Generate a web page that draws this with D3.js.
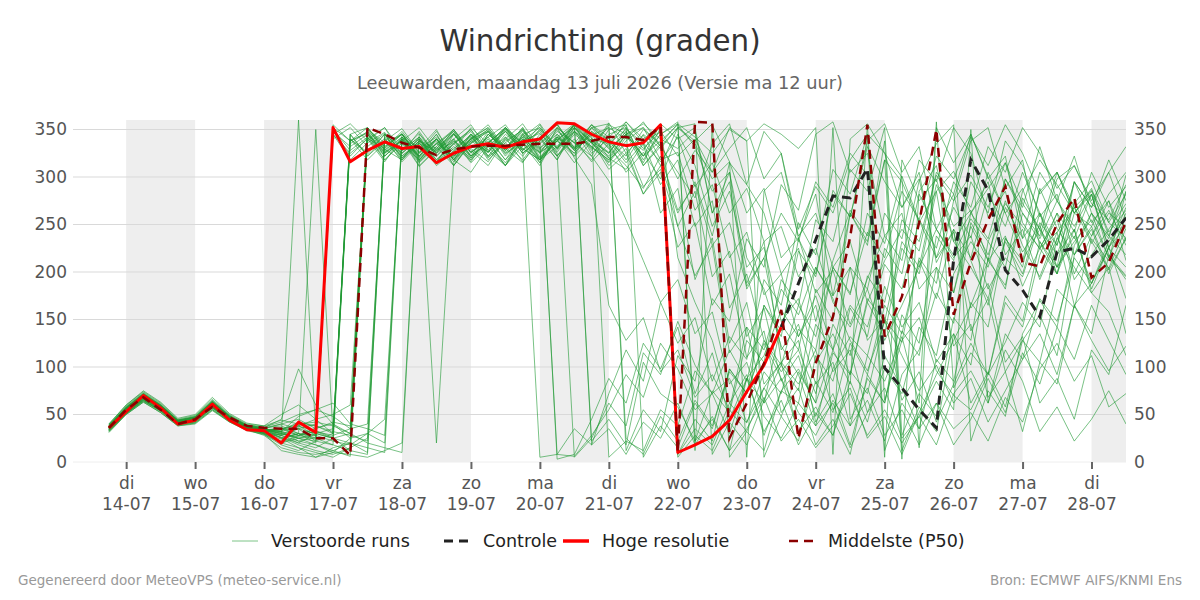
<!DOCTYPE html>
<html>
<head>
<meta charset="utf-8">
<script src="https://cdn.jsdelivr.net/npm/d3@7"></script>
<style>
  body { margin: 0; background: #fff; }
  svg { display: block; font-family: "DejaVu Sans", sans-serif; }
</style>
</head>
<body>
<svg width="1200" height="600"></svg>
<script>
// 6-hourly steps from 13-07 18:00 UTC
var startTime = Date.UTC(2026, 6, 13, 18);
var stepCount = 60;

var yTicks = [0, 50, 100, 150, 200, 250, 300, 350];
var dayNames = ["di", "wo", "do", "vr", "za", "zo", "ma", "di", "wo", "do", "vr", "za", "zo", "ma", "di"];
var dayDates = ["14-07", "15-07", "16-07", "17-07", "18-07", "19-07", "20-07", "21-07", "22-07", "23-07", "24-07", "25-07", "26-07", "27-07", "28-07"];
var shadedDays = ["14-07", "16-07", "18-07", "20-07", "22-07", "24-07", "26-07", "28-07"];

// Hoge resolutie (ends 23-07 18:00)
var hres = [36, 53, 70, 57, 40, 44, 61, 44, 34, 33,
  20, 42, 31, 352, 316, 328, 337, 330, 332, 315,
  325, 332, 335, 331, 337, 340, 357, 356, 345, 337,
  333, 336, 355, 10, 18, 27, 44, 74, 102, 142];

// Middelste (P50)
var p50 = [36, 55, 68, 55, 40, 45, 58, 47, 38, 36,
  35, 35, 25, 25, 7, 352, 345, 336, 331, 323,
  329, 332, 333, 333, 334, 335, 335, 335, 338, 342,
  342, 339, 353, 10, 358, 357, 25, 62, 104, 160,
  25, 104, 153, 237, 355, 132, 174, 252, 350, 155,
  210, 255, 290, 210, 206, 251, 278, 194, 210, 253];

// Controle (visible from 23-07 18:00)
var control = Array(39).fill(null).concat([142, 188, 234, 280, 278, 309, 99, 78, 55, 36,
  213, 318, 286, 202, 181, 153, 221, 225, 216, 234, 257]);

// Verstoorde runs
var members = [
  [33,52,66,55,40,42,57,44,35,30, 22,38,28,350,322,341,329,318,336,312, 327,345,321,336,318,342,355,331,340,326, 348,315,352,8,35,18,62,41,95,72, 140,118,205,176,262,230,301,254,215,268, 236,305,262,221,249,198,275,232,204,246],
  [38,58,72,60,43,47,63,48,38,34, 28,20,15,25,12,345,326,338,311,329, 340,318,335,352,329,341,322,348,330,357, 325,344,312,352,335,298,316,262,288,215, 236,178,202,145,193,238,212,296,335,355, 22,75,48,135,170,142,228,262,215,258],
  [35,54,69,58,42,44,62,46,37,35, 40,45,35,345,318,336,347,325,340,314, 330,343,320,338,349,332,8,6,28,55, 92,68,125,98,55,72,30,88,112,160, 132,175,118,82,355,65,128,152,96,70, 55,92,126,168,142,236,205,178,158,112],
  [31,50,63,52,38,40,54,42,34,28, 15,10,8,12,20,10,340,322,336,315, 332,318,345,328,350,321,340,332,355,342, 358,336,348,322,340,305,330,352,298,325, 245,290,262,318,345,12,62,35,108,85, 168,142,236,205,288,246,218,262,235,302],
  [40,60,74,62,45,49,66,50,40,38, 50,60,45,30,340,324,345,318,338,326, 345,322,336,312,333,350,326,352,331,318, 335,290,308,248,196,228,115,142,62,88, 32,58,28,96,72,150,126,215,188,275, 302,268,315,252,224,262,198,238,265,228],
  [37,56,70,59,42,46,61,47,37,33, 35,40,42,38,30,20,15,10,345,325, 338,315,333,348,328,342,318,352,336,322, 345,356,340,330,348,262,295,182,215,118, 145,82,105,38,65,22,92,118,178,146, 252,218,275,228,195,242,165,188,225,205],
  [34,53,67,56,41,43,59,45,36,32, 25,30,20,352,338,347,326,342,318,335, 322,340,348,325,337,315,342,330,346,5, 22,12,55,38,96,72,118,85,165,138, 222,195,286,258,332,295,268,305,210,245, 138,172,95,128,155,112,218,248,202,236],
  [39,57,71,58,44,48,64,49,39,36, 45,98,60,40,25,350,328,345,321,338, 316,340,352,328,344,320,338,355,325,341, 318,345,330,352,356,8,42,18,65,102, 75,182,148,262,228,338,12,58,32,135, 102,215,182,278,245,305,268,238,275,212],
  [36,55,68,57,41,45,60,45,36,30, 20,15,5,10,25,30,20,340,322,345, 318,305,332,348,325,341,356,330,352,338, 315,336,292,318,248,275,162,198,128,95, 118,72,145,112,196,168,255,232,302,275, 338,352,288,318,226,255,192,218,245,272],
  [35,52,65,54,40,44,58,44,35,32, 28,360,30,25,345,322,338,351,326,340, 312,335,348,324,340,318,332,356,341,312, 330,282,305,226,252,165,198,110,138,52, 78,18,45,8,92,62,138,112,205,178, 262,235,298,268,332,275,248,282,218,196],
  [37,56,70,58,43,46,62,47,38,35, 32,28,36,40,30,345,325,340,312,330, 348,322,336,352,328,5,8,35,18,72, 118,85,168,192,135,158,82,105,48,25, 62,38,115,92,168,135,225,198,285,306, 262,295,218,245,192,235,268,230,262,248],
  [32,51,64,54,39,41,55,43,34,29, 18,12,22,30,338,352,328,342,320,335, 348,326,340,318,345,330,352,336,322,350, 355,5,38,15,62,35,98,72,125,88, 52,28,65,38,112,85,132,62,358,78, 115,92,168,142,218,262,235,282,225,262],
  [38,57,71,59,43,47,63,48,38,36, 38,30,25,18,12,8,342,325,340,316, 338,322,348,330,315,342,328,355,336,320, 345,352,332,305,278,335,356,292,262,198, 225,148,212,265,238,318,3,285,312,232, 205,172,235,212,285,305,262,288,238,218],
  [36,54,68,57,42,45,61,46,37,34, 30,35,40,355,338,346,322,340,317,332, 350,326,338,312,345,352,330,348,322,296, 255,212,168,125,152,85,132,108,192,165, 252,218,308,282,345,325,268,298,215,242, 162,188,105,132,62,88,45,118,92,165],
  [34,53,66,55,41,44,58,44,35,31, 28,22,18,10,8,5,12,20,340,318, 335,350,326,342,316,338,355,328,344,352, 340,358,332,352,338,356,5,32,12,75, 98,62,352,45,78,28,55,18,62,35, 52,22,68,42,98,125,85,112,58,72],
  [39,59,73,61,44,48,65,49,39,37, 42,50,55,48,35,348,332,345,320,20, 315,338,326,348,332,355,322,340,316,335, 305,326,298,345,312,248,285,205,226,148, 172,105,135,92,172,148,232,205,292,248, 265,212,238,185,225,198,262,285,242,265],
  [33,51,65,54,40,43,57,44,35,32, 26,20,30,35,340,318,336,325,348,322, 340,355,328,312,338,346,325,5,25,62, 38,115,92,148,102,72,88,42,78,105, 82,118,55,78,25,48,8,52,92,128, 165,212,186,262,238,298,312,272,255,292],
  [37,56,69,58,42,46,62,46,37,33, 30,25,28,22,18,30,45,335,318,340, 326,345,318,336,350,328,342,356,338,325, 348,322,345,356,22,75,52,128,105,192, 165,255,232,308,285,352,28,72,48,152, 128,232,205,285,318,292,262,282,226,248],
  [35,55,69,57,41,45,60,45,36,33, 36,30,350,30,345,322,341,316,335,328, 346,322,336,352,325,340,318,348,332,315, 338,352,318,326,265,292,215,242,176,198, 132,165,95,118,52,78,25,48,18,72, 96,62,135,108,172,148,215,188,226,172],
  [36,56,70,59,42,45,62,47,37,34, 32,38,45,50,60,340,322,338,315,332, 312,336,348,322,342,356,330,352,338,325, 352,318,345,358,12,355,316,5,285,305, 238,262,205,232,168,212,245,222,305,282, 345,298,322,235,262,205,238,188,232,258],
  [38,57,70,60,44,46,61,47,38,35, 25,15,10,5,15,25,345,328,342,315, 335,320,345,330,352,318,338,325,348,336, 355,312,332,248,285,195,222,132,162,85, 112,48,98,132,112,185,142,168,105,135, 62,95,58,128,105,182,162,235,212,285],
  [34,52,67,56,40,43,58,45,36,31, 20,25,30,348,332,345,318,336,322,340, 318,342,326,350,335,312,345,328,352,330, 345,322,356,340,352,262,305,188,232,105, 128,42,72,18,88,62,155,125,238,212, 295,262,338,312,258,282,218,245,198,236],
  [40,60,75,63,46,50,68,51,41,38, 44,40,38,30,345,352,332,345,318,336, 322,341,352,330,348,325,340,315,338,308, 325,282,312,262,295,238,315,292,348,325, 235,282,175,205,128,152,65,95,42,82, 125,92,175,148,232,205,295,268,318,275],
  [33,51,64,53,39,42,56,43,34,30, 12,8,5,15,20,340,352,322,338,315, 345,326,342,355,330,318,338,322,352,356, 12,55,32,112,85,172,148,235,205,292, 265,345,358,305,325,238,262,182,205,122, 145,68,95,32,105,82,165,135,218,192],
  [36,55,68,57,41,45,59,46,37,34, 35,38,32,28,35,40,338,318,342,326, 350,328,312,340,322,345,330,355,336,316, 342,328,355,215,168,128,62,92,28,75, 62,145,118,205,182,262,235,318,295,352, 325,258,285,212,245,218,272,296,252,282],
  [35,54,67,56,42,45,60,46,36,33, 31,25,22,345,325,340,316,342,330,350, 318,340,326,352,335,348,322,345,332,318, 345,312,335,298,328,305,352,338,5,48, 22,112,85,162,132,225,198,282,245,215, 238,182,215,195,252,228,295,268,305,255],
  [37,57,72,60,43,47,64,48,38,35, 29,27,33,26,335,348,322,340,316,335, 350,325,342,318,338,352,330,355,22,45, 18,105,72,58,22,45,12,88,62,145, 118,205,175,262,232,318,295,252,285,178, 248,212,298,262,232,198,245,182,226,268],
  [32,50,63,52,38,41,55,42,33,29, 20,28,35,42,38,352,330,346,322,340, 318,345,332,312,340,325,350,328,345,320, 308,335,262,288,192,236,125,168,82,105, 28,85,52,125,92,165,135,212,172,245, 215,282,248,305,262,218,245,178,205,135],
  [39,58,72,60,44,47,63,48,39,36, 40,35,30,25,20,15,10,342,326,348, 322,340,355,330,346,318,352,336,355,332, 358,340,352,8,45,22,98,72,165,132, 235,198,282,258,338,356,305,332,245,282, 212,165,232,198,262,228,295,252,275,232],
  [34,53,67,56,41,44,60,45,36,32, 35,28,24,350,328,342,318,336,325,345, 312,338,350,326,342,315,340,352,328,355, 345,322,338,355,332,285,305,215,182,122, 92,38,62,15,52,98,72,142,112,198, 232,205,268,236,305,275,322,262,238,285],
  [36,55,70,58,42,45,61,46,37,33, 28,35,22,18,340,326,345,320,338,330, 346,320,336,350,325,338,3,8,45,88, 62,125,98,142,72,115,45,88,32,65, 18,52,28,85,42,112,78,35,62,18, 45,88,52,115,82,142,108,165,128,92],
  [35,53,68,56,40,44,59,45,36,31, 26,18,12,8,15,345,330,348,325,340, 320,345,328,352,336,318,342,330,355,338, 322,350,335,356,342,325,350,338,356,345, 330,352,8,340,356,325,300,15,352,315, 345,300,262,288,235,275,242,305,268,290],
  [37,56,70,59,43,46,62,47,37,34, 33,42,38,32,28,22,345,328,346,322, 340,316,345,330,352,326,338,355,18,35, 8,42,25,62,18,48,12,35,68,22, 45,15,38,72,28,55,20,48,85,55, 350,62,118,85,32,58,22,45,75,40],
  [34,52,66,55,41,43,58,44,35,30, 24,30,28,340,352,332,346,320,338,325, 345,330,316,342,328,350,332,348,336,352, 25,8,48,22,65,38,95,72,128,102, 165,132,205,178,242,215,285,255,322,298, 342,312,355,325,282,305,262,248,282,305],
  [38,57,71,59,44,47,64,48,38,35, 30,25,18,12,6,342,325,338,352,328, 336,350,322,345,330,318,342,325,348,330, 312,288,322,265,292,228,252,185,215,262, 232,295,268,325,302,5,318,275,298,232, 262,288,315,272,245,205,232,255,215,195],
  [33,52,65,54,40,43,57,44,35,32, 36,28,32,25,30,350,336,345,322,340, 318,336,350,328,342,335,352,320,292,165, 128,152,95,118,68,92,55,142,118,182, 155,205,172,128,96,148,112,75,102,62, 88,42,75,108,135,92,165,128,96,122],
  [36,55,69,57,42,45,60,46,37,33, 32,48,55,62,40,35,28,345,330,342, 328,352,335,315,340,326,348,336,318,345, 352,330,348,5,28,12,55,32,78,48, 95,62,118,165,142,208,182,255,225,295, 268,332,305,352,325,288,312,275,305,332],
  [37,57,71,59,43,47,63,48,38,35, 32,22,26,345,356,338,352,328,342,318, 335,348,322,340,356,330,345,322,340,335, 350,336,316,342,290,315,262,288,232,248, 195,225,168,142,182,128,165,205,245,218, 256,232,272,248,225,242,268,286,252,236]
];

var times = d3.range(stepCount).map(function(i) {
  return new Date(startTime + i * 6 * 3600e3);
});
function parseDay(s) {
  return new Date(Date.UTC(2026, +s.substr(3, 2) - 1, +s.substr(0, 2)));
}

var svg = d3.select("svg");
var plotLeft = 73, plotRight = 1126, plotTop = 120, plotBottom = 462;

var x = d3.scaleUtc()
  .domain([new Date(Date.UTC(2026, 6, 13, 5, 30)), new Date(Date.UTC(2026, 6, 28, 12))])
  .range([plotLeft, plotRight]);
var y = d3.scaleLinear().domain([0, 360]).range([plotBottom, plotTop]);

// shaded days
svg.append("g").selectAll("rect")
  .data(shadedDays)
  .enter().append("rect")
  .attr("x", function(d) { return x(parseDay(d)); })
  .attr("y", plotTop)
  .attr("width", function(d) {
    var a = x(parseDay(d));
    var b = Math.min(x(d3.utcDay.offset(parseDay(d), 1)), plotRight);
    return b - a;
  })
  .attr("height", plotBottom - plotTop)
  .attr("fill", "#eeeeee");

// gridlines
svg.append("g").selectAll("line")
  .data(yTicks)
  .enter().append("line")
  .attr("x1", plotLeft).attr("x2", plotRight)
  .attr("y1", function(d) { return y(d); })
  .attr("y2", function(d) { return y(d); })
  .attr("stroke", function(d) { return d === 0 ? "#eeeeee" : "#d9d9d9"; })
  .attr("stroke-width", 1);

// y axes left and right
var yl = svg.append("g")
  .attr("transform", "translate(" + plotLeft + ",0)")
  .call(d3.axisLeft(y).tickValues(yTicks).tickSize(0).tickPadding(6));
var yr = svg.append("g")
  .attr("transform", "translate(" + plotRight + ",0)")
  .call(d3.axisRight(y).tickValues(yTicks).tickSize(0).tickPadding(8));
[yl, yr].forEach(function(a) {
  a.select(".domain").remove();
  a.selectAll("text").attr("font-size", 17).attr("fill", "#555").attr("font-family", "DejaVu Sans");
});

// x axis with two-line labels
var dayTicks = dayDates.map(parseDay);
var xa = svg.append("g")
  .attr("transform", "translate(0," + plotBottom + ")")
  .call(d3.axisBottom(x).tickValues(dayTicks).tickSize(7).tickFormat(""));
xa.select(".domain").remove();
xa.selectAll(".tick line").attr("stroke", "#666").attr("stroke-width", 2);
xa.selectAll(".tick").each(function(d, i) {
  var t = d3.select(this).append("text")
    .attr("text-anchor", "middle")
    .attr("font-size", 17)
    .attr("font-family", "DejaVu Sans")
    .attr("fill", "#555");
  t.append("tspan").attr("x", 0).attr("y", 27).text(dayNames[i]);
  t.append("tspan").attr("x", 0).attr("y", 48).text(dayDates[i]);
});

svg.append("clipPath").attr("id", "plot")
  .append("rect").attr("x", plotLeft).attr("y", plotTop - 2)
  .attr("width", plotRight - plotLeft).attr("height", plotBottom - plotTop + 4);

var line = d3.line()
  .defined(function(d) { return d != null; })
  .x(function(d, i) { return x(times[i]); })
  .y(function(d) { return y(d); });

var plot = svg.append("g").attr("clip-path", "url(#plot)");

// ensemble members
plot.append("g").selectAll("path")
  .data(members)
  .enter().append("path")
  .attr("d", line)
  .attr("fill", "none")
  .attr("stroke", "#1f9a33")
  .attr("stroke-opacity", 0.6)
  .attr("stroke-width", 1);

plot.append("path").datum(control)
  .attr("d", line).attr("fill", "none")
  .attr("stroke", "#222").attr("stroke-width", 3)
  .attr("stroke-dasharray", "9,6");

plot.append("path").datum(hres)
  .attr("d", line).attr("fill", "none")
  .attr("stroke", "#ff0000").attr("stroke-width", 3)
  .attr("stroke-linejoin", "round");

plot.append("path").datum(p50)
  .attr("d", line).attr("fill", "none")
  .attr("stroke", "#8b0000").attr("stroke-width", 2.5)
  .attr("stroke-dasharray", "9,6");

// titles
svg.append("text").attr("x", 600).attr("y", 51)
  .attr("text-anchor", "middle").attr("font-size", 29.3).attr("fill", "#333")
  .text("Windrichting (graden)");
svg.append("text").attr("x", 600).attr("y", 89)
  .attr("text-anchor", "middle").attr("font-size", 17.8).attr("fill", "#666")
  .text("Leeuwarden, maandag 13 juli 2026 (Versie ma 12 uur)");

// legend
var legendItems = [
  { label: "Verstoorde runs", x: 232, color: "#7cc487", width: 1, dash: null },
  { label: "Controle", x: 444, color: "#222", width: 3, dash: "9,6" },
  { label: "Hoge resolutie", x: 563, color: "#ff0000", width: 3.5, dash: null },
  { label: "Middelste (P50)", x: 789, color: "#8b0000", width: 2.5, dash: "9,6" }
];
var lg = svg.append("g").selectAll("g")
  .data(legendItems)
  .enter().append("g")
  .attr("transform", function(d) { return "translate(" + d.x + ",541)"; });
lg.append("line")
  .attr("x1", 0).attr("x2", 26)
  .attr("stroke", function(d) { return d.color; })
  .attr("stroke-width", function(d) { return d.width; })
  .attr("stroke-dasharray", function(d) { return d.dash; });
lg.append("text")
  .attr("x", 39).attr("y", 6)
  .attr("font-size", 17.5).attr("fill", "#222")
  .text(function(d) { return d.label; });

// footer
svg.append("text").attr("x", 18).attr("y", 585)
  .attr("font-size", 13.5).attr("fill", "#999")
  .text("Gegenereerd door MeteoVPS (meteo-service.nl)");
svg.append("text").attr("x", 1182).attr("y", 585)
  .attr("text-anchor", "end").attr("font-size", 13.5).attr("fill", "#999")
  .text("Bron: ECMWF AIFS/KNMI Ens");
</script>
</body>
</html>
